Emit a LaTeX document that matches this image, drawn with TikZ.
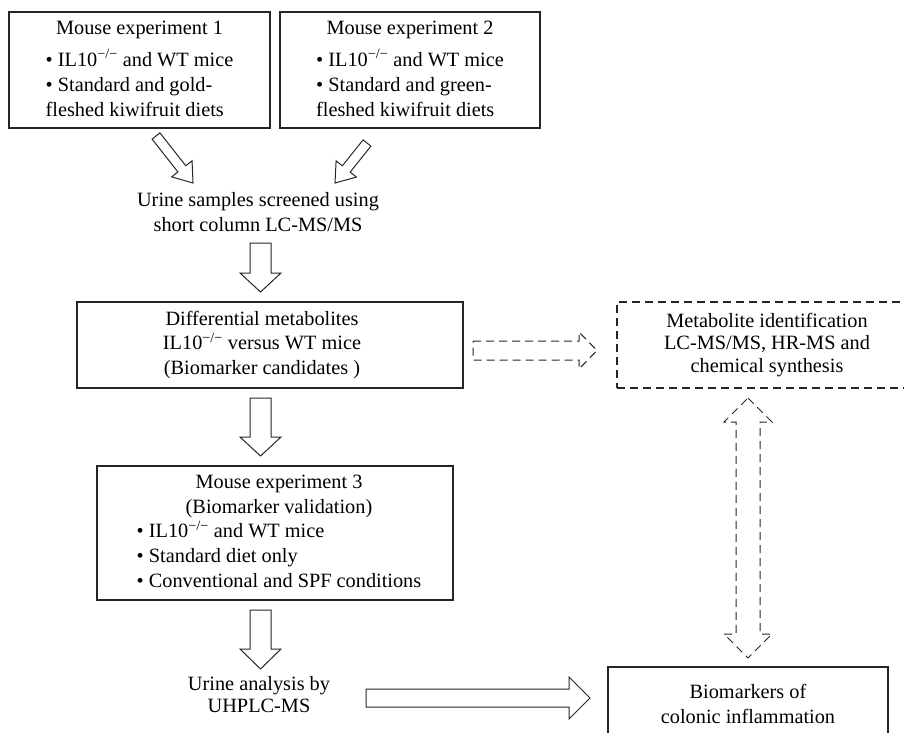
\documentclass[tikz,border=0pt]{standalone}
\usepackage{fontspec}
\setmainfont{Liberation Serif}
\usetikzlibrary{calc}
\tikzset{
  blockarrow/.style n args={3}{to path={
    let \p1=(\tikztostart), \p2=(\tikztotarget), \p3=($(\p2)!#3!(\p1)$) in
    ($(\p1)!#1!90:(\p2)$) -- ($(\p3)!#1!90:(\p2)$) -- ($(\p3)!#2!90:(\p2)$) -- (\p2)
    -- ($(\p3)!#2!-90:(\p2)$) -- ($(\p3)!#1!-90:(\p2)$) -- ($(\p1)!#1!-90:(\p2)$) -- cycle}},
  dblarrow/.style n args={3}{to path={
    let \p1=(\tikztostart), \p2=(\tikztotarget),
        \p3=($(\p1)!#3!(\p2)$), \p4=($(\p2)!#3!(\p1)$) in
    (\p1) -- ($(\p3)!#2!90:(\p2)$) -- ($(\p3)!#1!90:(\p2)$) -- ($(\p4)!#1!90:(\p2)$)
    -- ($(\p4)!#2!90:(\p2)$) -- (\p2) -- ($(\p4)!#2!-90:(\p2)$) -- ($(\p4)!#1!-90:(\p2)$)
    -- ($(\p3)!#1!-90:(\p2)$) -- ($(\p3)!#2!-90:(\p2)$) -- cycle}},
  box/.style={draw=black!85, line width=1.1pt, rectangle, inner sep=0pt, outer sep=0pt},
  dbox/.style={box, dash pattern=on 8pt off 5pt},
  arr/.style={draw=black!85, line width=1pt, line join=miter},
  darr/.style={arr, dash pattern=on 8pt off 5pt},
  txt/.style={align=center, inner sep=0pt},
}
\newcommand{\ko}{\textsuperscript{−/−}}
\begin{document}
\begin{tikzpicture}[x=1pt,y=-1pt, font=\fontsize{20.3}{25}\selectfont]
\useasboundingbox (0,0) rectangle (904,732);
\clip (0,0) rectangle (904,732);

% boxes
\node[box, minimum width=261pt, minimum height=116pt] (m1) at (139.5,70) {%
\begin{tabular}{@{}l@{}}
\multicolumn{1}{@{}c@{}}{Mouse experiment 1}\\[7pt]
\textbullet\ IL10\ko{} and WT mice\\
\textbullet\ Standard and gold-\\
fleshed kiwifruit diets
\end{tabular}};

\node[box, minimum width=260pt, minimum height=116pt] (m2) at (410,70) {%
\begin{tabular}{@{}l@{}}
\multicolumn{1}{@{}c@{}}{Mouse experiment 2}\\[7pt]
\textbullet\ IL10\ko{} and WT mice\\
\textbullet\ Standard and green-\\
fleshed kiwifruit diets
\end{tabular}};

\node[txt] (u1) at (258,212.5) {Urine samples screened using\\short column LC-MS/MS};

\node[box, minimum width=386pt, minimum height=86pt] (dm) at (270,345) {%
\fontsize{20.3}{24.5}\selectfont
\begin{tabular}{@{}c@{}}
Differential metabolites\\
IL10\ko{} versus WT mice\\
(Biomarker candidates )
\end{tabular}\hspace*{16pt}};

\node[dbox, minimum width=300pt, minimum height=86pt] (mi) at (767,345) {%
\fontsize{20.3}{22.5}\selectfont
\begin{tabular}{@{}c@{}}
Metabolite identification\\
LC-MS/MS, HR-MS and\\
chemical synthesis
\end{tabular}};

\node[box, minimum width=356pt, minimum height=134pt] (m3) at (275,533) {%
\fontsize{20.3}{24.75}\selectfont
\hspace*{8pt}\begin{tabular}{@{}l@{}}
\multicolumn{1}{@{}c@{}}{Mouse experiment 3}\\
\multicolumn{1}{@{}c@{}}{(Biomarker validation)}\\
\textbullet\ IL10\ko{} and WT mice\\
\textbullet\ Standard diet only\\
\textbullet\ Conventional and SPF conditions
\end{tabular}};

\node[txt, font=\fontsize{20.3}{22}\selectfont] (u2) at (259,695) {Urine analysis by\\UHPLC-MS};

\node[box, minimum width=280pt, minimum height=77pt] (bm) at (748,705.5) {%
\begin{tabular}{@{}c@{}}
Biomarkers of\\
colonic inflammation
\end{tabular}};

% arrow end points
\coordinate (a1s) at (156,136);  \coordinate (a1e) at (193,183);
\coordinate (a2s) at (367,143);  \coordinate (a2e) at (335,183);
\coordinate (a3s) at (260.5,243); \coordinate (a3e) at (260.5,292);
\coordinate (a4s) at (260.5,398); \coordinate (a4e) at (260.5,456);
\coordinate (a5s) at (260.5,610); \coordinate (a5e) at (260.5,669);
\coordinate (a6s) at (366,698);  \coordinate (a6e) at (590,698);
\coordinate (d1s) at (473,350.5);  \coordinate (d1e) at (597,350.5);
\coordinate (d2s) at (748,398);  \coordinate (d2e) at (748,658);

% arrows
\draw[arr] (a1s) to[blockarrow={5pt}{13pt}{18pt}] (a1e);
\draw[arr] (a2s) to[blockarrow={5pt}{13pt}{18pt}] (a2e);
\draw[arr] (a3s) to[blockarrow={10.5pt}{20.5pt}{19pt}] (a3e);
\draw[arr] (a4s) to[blockarrow={10.5pt}{20.5pt}{19pt}] (a4e);
\draw[arr] (a5s) to[blockarrow={10.5pt}{20.5pt}{20pt}] (a5e);
\draw[arr] (a6s) to[blockarrow={9pt}{21pt}{21pt}] (a6e);
\draw[darr] (d1s) to[blockarrow={9.5pt}{18.5pt}{18pt}] (d1e);
\draw[darr] (d2s) to[dblarrow={12pt}{24pt}{24pt}] (d2e);
\end{tikzpicture}
\end{document}
